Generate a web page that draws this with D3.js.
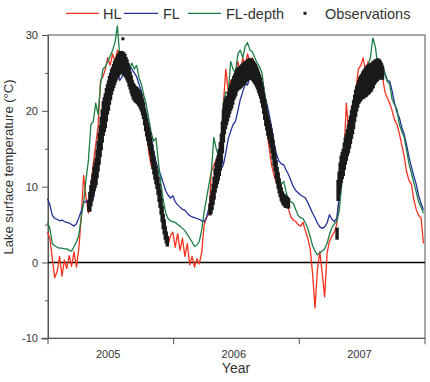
<!DOCTYPE html>
<html><head><meta charset="utf-8">
<script src="https://cdn.jsdelivr.net/npm/d3@7"></script>
<style>body{margin:0;background:#fff;}svg{display:block;}</style>
</head><body><svg id="c" width="430" height="382"></svg>
<script>
const FONT = "'Liberation Sans', Arial, Helvetica, sans-serif";
// Weekly model series (one value per 7 days from 2005-01-01), °C
const hlTemps = [4.0,3.2,0.5,-2.0,-1.2,0.8,-1.8,0.3,-0.8,0.9,-0.5,1.4,-0.6,1.8,6.0,11.5,8.5,6.5,10.0,13.0,
15.5,18.0,24.0,24.5,25.5,27.0,26.0,27.5,26.5,28.0,27.5,26.5,26.0,25.0,24.0,24.5,23.0,22.5,22.0,22.3,
20.0,18.0,14.5,12.8,12.5,12.2,10.0,7.5,6.0,4.6,2.2,3.5,4.0,2.0,3.8,1.6,3.2,0.8,2.5,-0.3,
0.8,-0.6,0.5,-0.2,1.4,5.0,5.9,6.5,12.0,12.8,13.5,14.5,15.8,21.0,25.5,22.5,24.0,22.5,25.0,26.5,
25.0,27.0,26.0,27.5,26.5,27.0,25.5,25.0,24.5,22.0,19.8,17.5,15.0,12.8,11.5,10.5,10.0,9.5,9.0,8.0,
7.0,6.0,5.6,5.4,5.0,4.8,5.3,4.2,3.2,1.8,-1.5,-6.0,-1.0,1.4,-1.5,-4.5,1.2,2.8,3.5,4.0,
5.0,8.5,11.0,14.0,21.0,17.0,20.0,21.5,23.0,25.5,26.0,27.0,25.0,26.5,25.5,26.0,25.0,24.5,25.5,24.5,
22.5,21.7,21.0,20.0,18.8,18.2,17.0,15.5,14.0,12.0,10.8,10.3,8.3,7.0,6.2,5.9,2.5];
const flTemps = [8.4,7.6,6.2,5.8,5.7,5.5,5.6,5.4,5.3,5.2,5.0,4.8,5.1,5.9,6.8,7.8,8.1,7.8,7.6,8.5,
10.0,12.5,15.0,17.5,19.5,21.0,22.5,23.5,24.5,25.3,24.0,24.5,26.0,26.5,26.0,25.5,25.0,24.5,23.5,22.5,
21.0,19.5,18.0,16.5,14.8,13.3,12.3,11.5,10.5,9.5,8.9,8.5,8.8,8.0,7.6,7.3,7.0,6.9,6.5,6.2,
6.0,5.9,5.8,5.7,5.5,5.4,6.0,7.2,8.3,9.3,10.5,11.5,12.3,12.9,14.5,16.3,17.3,18.2,18.6,20.0,
21.5,22.5,23.5,23.4,24.5,25.5,25.8,25.2,24.2,23.0,22.0,21.0,19.5,17.8,15.8,14.3,13.4,13.0,12.9,12.2,
11.6,10.8,10.0,9.5,9.2,8.9,8.7,8.5,7.9,7.2,6.5,5.9,5.2,4.7,4.5,4.7,5.2,6.3,5.7,5.4,
5.8,8.5,11.5,13.2,14.6,16.5,18.3,19.9,21.3,22.5,23.5,24.2,24.8,25.2,25.5,25.8,26.2,26.5,26.2,26.1,
25.0,24.0,23.9,22.6,21.0,19.8,19.1,17.8,16.9,15.5,13.9,12.6,11.4,10.3,8.8,7.8,6.9];
const flDepthTemps = [5.3,4.5,2.5,2.2,2.0,1.9,1.9,1.8,1.8,1.6,1.5,2.1,2.7,3.6,5.9,8.0,11.0,13.5,18.2,18.6,
21.0,19.5,23.5,25.5,25.8,26.5,27.2,28.0,29.0,31.2,27.0,26.0,26.8,26.0,25.3,26.3,25.5,26.0,24.3,23.5,
22.0,20.8,19.0,17.2,16.0,16.4,13.3,10.5,8.3,6.6,5.8,5.5,5.4,5.3,5.0,4.8,4.5,4.2,3.7,3.2,
2.7,2.1,2.3,2.8,4.3,6.7,8.5,10.3,12.0,16.5,15.0,14.0,15.3,21.0,22.5,22.3,26.5,25.5,25.0,27.5,
28.0,27.0,28.5,29.0,28.0,27.8,27.0,26.3,25.8,25.0,22.3,20.3,18.5,16.7,14.8,12.8,11.2,10.3,10.7,9.3,
8.2,8.0,7.8,7.0,6.2,5.9,5.8,5.2,4.5,3.4,2.2,1.5,1.0,1.3,1.5,1.8,2.5,3.7,4.6,5.1,
5.4,6.7,10.0,12.5,14.6,16.8,18.8,20.4,21.2,22.8,24.0,25.0,25.5,26.0,27.0,29.6,28.5,26.1,26.0,26.1,
24.8,23.9,23.5,21.5,20.8,20.2,18.2,17.3,16.5,14.8,13.0,11.8,10.5,9.3,8.0,7.3,6.5];

// Observations: low/high of the observed spread, one entry every 3 days from the given day-of-year
const obs2005Start = 120;
const obs2005Lo = [6.9,6.9,7.6,8.3,8.9,9.6,10.0,10.4,11.3,12.2,13.1,14.1,15.0,16.0,16.9,17.4,17.9,18.8,19.7,20.2,
21.0,21.6,22.3,22.8,23.2,23.6,24.0,24.3,24.6,24.8,25.0,25.1,25.1,25.0,24.9,24.7,24.5,24.2,23.9,23.4,
23.0,22.5,22.1,21.7,21.5,21.3,21.2,21.1,20.9,20.7,20.4,20.1,19.6,19.1,18.3,17.5,16.8,16.2,15.6,15.0,
14.3,13.4,12.5,11.8,11.1,10.5,9.9,9.1,8.2,7.4,6.5,5.5,4.6,3.9,3.2,2.7,2.3];
const obs2005Hi = [8.1,9.1,10.0,10.7,11.5,12.4,13.0,13.6,14.7,15.8,16.9,17.9,19.0,20.0,21.1,21.6,22.1,22.8,23.3,23.8,
24.4,24.8,25.3,25.6,26.0,26.4,26.6,26.9,27.2,27.4,27.6,27.7,27.7,27.6,27.5,27.3,26.9,26.6,26.1,25.6,
25.0,24.5,23.9,23.5,23.3,23.1,23.0,22.9,22.7,22.5,22.2,21.9,21.4,20.9,20.1,19.5,18.8,18.2,17.6,17.0,
16.3,15.4,14.5,13.8,13.1,12.5,11.9,11.1,10.2,9.4,8.3,7.3,6.2,5.5,4.6,3.9,3.3];
const obs2006Start = 107;
const obs2006Lo = [6.4,6.6,7.1,7.8,8.5,9.4,10.0,10.5,11.0,11.6,12.3,13.2,14.6,16.0,17.1,17.8,18.3,18.8,19.3,19.8,
20.2,20.5,21.0,21.6,21.9,22.2,22.7,22.9,23.0,23.1,23.2,23.4,23.5,23.7,23.7,24.0,24.1,24.3,24.3,24.3,
24.3,24.2,24.0,23.8,23.6,23.3,23.0,22.6,22.2,21.8,21.2,20.6,19.8,19.0,18.2,17.6,16.9,16.4,15.9,15.3,
14.6,13.8,12.9,12.2,11.3,10.6,9.9,9.3,8.8,8.3,8.0,7.7,7.6,7.4,7.4,7.35,7.3];
const obs2006Hi = [7.6,8.6,9.3,10.2,11.1,12.2,13.0,13.5,14.0,14.8,15.7,16.8,18.4,20.0,20.9,21.4,21.7,21.8,22.3,22.8,
23.2,23.5,24.0,24.4,24.7,25.0,25.3,25.5,25.6,25.7,25.8,26.0,26.1,26.3,26.3,26.4,26.5,26.7,26.7,26.7,
26.7,26.6,26.4,26.2,26.0,25.7,25.4,25.0,24.6,24.2,23.6,23.0,22.2,21.4,20.6,19.8,19.1,18.6,18.1,17.5,
16.8,16.0,15.1,14.2,13.3,12.4,11.7,10.9,10.2,9.7,9.2,8.9,8.8,8.6,8.6,8.45,8.3];
const obs2007Start = 111;
const obs2007Lo = [3.2,8.3,9.2,10.0,10.7,11.2,11.6,12.4,13.1,13.6,14.2,14.6,15.2,15.8,16.5,17.1,17.8,18.7,19.4,20.1,
20.6,21.1,21.3,21.5,21.7,21.8,21.8,22.0,22.0,22.2,22.3,22.4,22.6,22.7,23.0,23.2,23.6,23.8,24.0,24.1,
24.3,24.4,24.4,24.3,24.3];
const obs2007Hi = [4.4,10.7,11.8,13.0,13.9,14.4,14.8,15.6,16.3,16.8,17.4,18.0,18.6,19.2,19.9,20.5,21.2,21.9,22.6,23.1,
23.4,23.9,24.3,24.5,24.7,25.0,25.2,25.4,25.6,25.8,25.9,26.0,26.0,26.1,26.2,26.4,26.4,26.6,26.6,26.7,
26.7,26.6,26.4,26.1,25.7];
// single isolated observation above the 2005 peak (day of 2005, value)
const obsOutlierDay = [219];
const obsOutlierVal = [29.5];

const yMajorTicks = [-10,0,10,20,30];
const yMinorTicks = [-5,5,15,25];
const years = [2005,2006,2007];
const legendItems = ["HL","FL","FL-depth","Observations"];
const colors = {HL:"#f5311e", FL:"#22329a", "FL-depth":"#1e7d45", Observations:"#1a1a1a"};

const svg = d3.select("#c").attr("font-family", FONT);
const L=48, R=425, T=35, B=338.3;
const x = d3.scaleUtc().domain([new Date(Date.UTC(2005,0,1)), new Date(Date.UTC(2008,0,1))]).range([47.5, 424.5]);
const y = d3.scaleLinear().domain([-10,30]).range([B, T]);
const wk = i => new Date(Date.UTC(2005,0,1+7*i));

// frame
svg.append("rect").attr("x",L).attr("y",T).attr("width",R-L).attr("height",B-T)
  .attr("fill","none").attr("stroke","#555").attr("stroke-width",1);

// y axis
const gy = svg.append("g").attr("transform",`translate(${L},0)`)
  .call(d3.axisLeft(y).tickValues(yMajorTicks).tickSize(6).tickPadding(4).tickFormat(d=>String(d)));
gy.attr("font-family", FONT).attr("font-size", 11);
gy.select(".domain").attr("stroke","#555");
gy.selectAll(".tick line").attr("stroke","#555");
gy.selectAll("text").attr("fill","#333");
const gym = svg.append("g").attr("transform",`translate(${L},0)`)
  .call(d3.axisLeft(y).tickValues(yMinorTicks).tickSize(3).tickFormat(""));
gym.select(".domain").remove();
gym.selectAll(".tick line").attr("stroke","#555");

// x axis
const yearStarts = [2005,2006,2007,2008].map(v=>new Date(Date.UTC(v,0,1)));
const gx = svg.append("g").attr("transform",`translate(0,${B})`)
  .call(d3.axisBottom(x).tickValues(yearStarts).tickSize(6).tickFormat(""));
gx.select(".domain").remove();
gx.selectAll(".tick line").attr("stroke","#555");
svg.append("line").attr("x1",41).attr("x2",R).attr("y1",B).attr("y2",B).attr("stroke","#555");
svg.selectAll(".yl").data(years).enter().append("text")
  .attr("x",d=>x(new Date(Date.UTC(d,6,2)))-2).attr("y",357.5)
  .attr("text-anchor","middle").attr("font-size",11).attr("fill","#333").text(d=>d);

// titles
svg.append("text").attr("x",236).attr("y",372.5).attr("text-anchor","middle")
  .attr("font-size",14).attr("fill","#333").text("Year");
svg.append("text").attr("transform","translate(13,167) rotate(-90)").attr("text-anchor","middle")
  .attr("font-size",13).attr("fill","#333").text("Lake surface temperature (°C)");

// zero line
svg.append("line").attr("x1",L).attr("x2",R).attr("y1",y(0)).attr("y2",y(0)).attr("stroke","#000").attr("stroke-width",1.3);

// lines
const line = d3.line().x((d,i)=>x(wk(i))).y(d=>y(d)).curve(d3.curveLinear);
[["HL",hlTemps],["FL",flTemps],["FL-depth",flDepthTemps]].forEach(([k,arr])=>{
  svg.append("path").datum(arr).attr("d",line).attr("fill","none")
    .attr("stroke",colors[k]).attr("stroke-width",1.3).attr("stroke-linejoin","round");
});

// observations
const obsPts = [];
[[2005,obs2005Start,obs2005Lo,obs2005Hi],[2006,obs2006Start,obs2006Lo,obs2006Hi],[2007,obs2007Start,obs2007Lo,obs2007Hi]]
  .forEach(([yr,st,lo,hi])=>{
    lo.forEach((v,i)=>obsPts.push({date:new Date(Date.UTC(yr,0,1+st+3*i)), lo:v, hi:hi[i]}));
  });
const og = svg.append("g").attr("fill",colors.Observations);
og.selectAll("rect.o").data(obsPts).enter().append("rect").attr("class","o")
  .attr("x",d=>x(d.date)-1.7).attr("width",3.4)
  .attr("y",d=>y(d.hi)-1.5).attr("height",d=>y(d.lo)-y(d.hi)+3);
og.selectAll("rect.out").data(obsOutlierDay).enter().append("rect").attr("class","out")
  .attr("x",d=>x(new Date(Date.UTC(2005,0,1+d)))-1.5).attr("width",3)
  .attr("y",(d,i)=>y(obsOutlierVal[i])-1.5).attr("height",3);

// legend
const lg = svg.append("g").attr("font-size",14.5).attr("fill","#333");
const lx = [[66,99,103],[124,158,163],[188,221,226]];
["HL","FL","FL-depth"].forEach((k,i)=>{
  lg.append("line").attr("x1",lx[i][0]).attr("x2",lx[i][1]).attr("y1",13.3).attr("y2",13.3)
    .attr("stroke",colors[k]).attr("stroke-width",1.3);
  lg.append("text").attr("x",lx[i][2]).attr("y",18.5).text(legendItems[i]);
});
lg.append("rect").attr("x",303.5).attr("y",11.8).attr("width",3).attr("height",3).attr("fill","#1a1a1a");
lg.append("text").attr("x",325).attr("y",18.5).text(legendItems[3]);
</script></body></html>
